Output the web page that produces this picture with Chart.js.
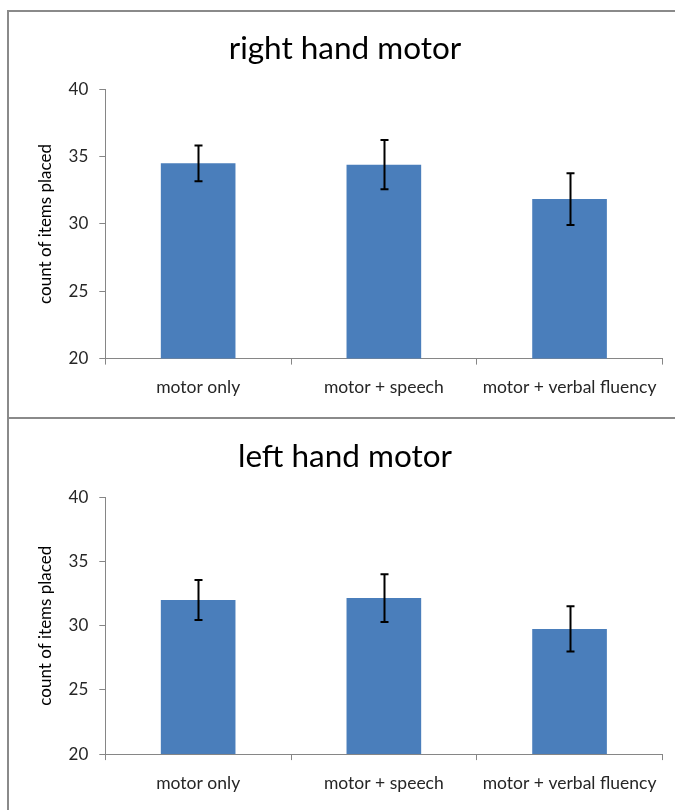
<!DOCTYPE html>
<html><head><meta charset="utf-8">
<script src="https://cdn.jsdelivr.net/npm/chart.js@4.4.1/dist/chart.umd.min.js"></script>
<style>
html,body{margin:0;padding:0;background:#fff;overflow:hidden;width:675px;height:810px;}
#c1{position:absolute;left:0;top:0;}
#c2{position:absolute;left:0;top:408px;}
.frame{position:absolute;left:7px;top:10px;width:700px;height:820px;border-left:2px solid #8a8a8a;border-top:2px solid #8a8a8a;}
.sep{position:absolute;left:7px;top:417px;width:700px;height:2px;background:#8a8a8a;}
</style></head><body>
<div class="frame"></div><div class="sep"></div>
<canvas id="c1" width="690" height="418"></canvas>
<canvas id="c2" width="690" height="406"></canvas>
<script>
const categories = ['motor only', 'motor + speech', 'motor + verbal fluency'];
const rightHandMeans = [34.5, 34.4, 31.85];
const rightHandErrors = [1.33, 1.83, 1.92];
const leftHandMeans = [32.0, 32.15, 29.75];
const leftHandErrors = [1.56, 1.86, 1.76];
const yTicks = [20, 25, 30, 35, 40];
const yTitle = 'count of items placed';

const errorBars = {
  id: 'errorBars',
  afterDatasetsDraw(chart, args, opts) {
    const ctx = chart.ctx;
    const meta = chart.getDatasetMeta(0);
    const y = chart.scales.y;
    const vals = chart.data.datasets[0].data;
    ctx.save();
    ctx.strokeStyle = '#000';
    ctx.lineWidth = 2;
    meta.data.forEach((bar, i) => {
      const t = y.getPixelForValue(vals[i] + opts.errors[i]);
      const b = y.getPixelForValue(vals[i] - opts.errors[i]);
      const x = Math.round(bar.x) + 0.5;
      ctx.beginPath();
      ctx.moveTo(x, t); ctx.lineTo(x, b);
      ctx.moveTo(x - 4, t); ctx.lineTo(x + 4, t);
      ctx.moveTo(x - 4, b); ctx.lineTo(x + 4, b);
      ctx.stroke();
    });
    ctx.restore();
  }
};

function build(id, titleText, means, errs, plotBottom) {
  const canvas = document.getElementById(id);
  const H = canvas.height;
  const xH = H - plotBottom;
  new Chart(canvas, {
    type: 'bar',
    data: {
      labels: categories,
      datasets: [{
        data: means,
        backgroundColor: '#4a7ebb',
        borderWidth: 0,
        categoryPercentage: 1,
        barPercentage: 0.402
      }]
    },
    options: {
      responsive: false,
      animation: false,
      events: [],
      layout: { padding: { top: 10, right: 27.6, left: 27.6, bottom: 0 } },
      plugins: {
        legend: { display: false },
        tooltip: { enabled: false },
        title: {
          display: true,
          text: titleText,
          color: '#000',
          font: { family: 'Lato', size: 31.5, weight: 'normal' },
          padding: { top: 19.6, bottom: 21.9 }
        },
        errorBars: { errors: errs }
      },
      scales: {
        x: {
          afterFit: s => { s.height = xH; },
          border: { display: true, color: '#868686', width: 1 },
          grid: { display: true, drawOnChartArea: false, drawTicks: true, tickLength: 6, color: '#868686', offset: true },
          ticks: { color: '#262626', padding: 12.4, font: { family: 'Lato', size: 17.5 } }
        },
        y: {
          min: yTicks[0],
          max: yTicks[yTicks.length - 1],
          afterFit: s => { s.width = 77.7; },
          afterBuildTicks: s => { s.ticks = yTicks.map(v => ({ value: v })); },
          border: { display: true, color: '#868686', width: 1 },
          grid: { display: true, drawOnChartArea: false, drawTicks: true, tickLength: 6, color: '#868686' },
          ticks: { color: '#262626', padding: 11, font: { family: 'Lato', size: 17 } },
          title: {
            display: true,
            text: yTitle,
            color: '#000',
            font: { family: 'Lato', size: 17 },
            padding: { top: 8.2, bottom: 0 }
          }
        }
      }
    },
    plugins: [errorBars]
  });
}

build('c1', 'right hand motor', rightHandMeans, rightHandErrors, 358.6);
build('c2', 'left hand motor', leftHandMeans, leftHandErrors, 346.1);
</script>
</body></html>
